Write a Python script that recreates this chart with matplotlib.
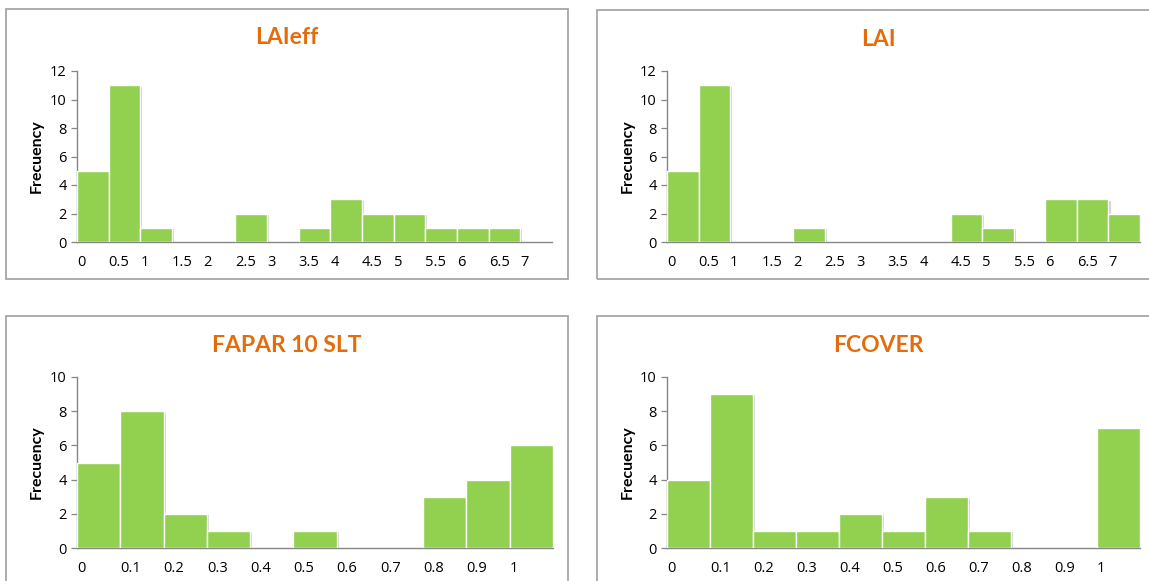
import matplotlib
matplotlib.use("Agg")
import matplotlib.pyplot as plt
import matplotlib.patheffects as pe
from matplotlib.patches import Rectangle
from matplotlib.transforms import ScaledTranslation

W, H = 1149, 581
GREEN, ORANGE, AXIS_GREY, BOX_GREY = "#92d050", "#e46c0a", "#868686", "#a6a6a6"

# histogram bins (left edges) and counts
LAI_EDGES = [0, 0.5, 1, 1.5, 2, 2.5, 3, 3.5, 4, 4.5, 5, 5.5, 6, 6.5, 7]
LAI_LABELS = ["0", "0.5", "1", "1.5", "2", "2.5", "3", "3.5", "4", "4.5", "5", "5.5", "6", "6.5", "7"]
LAIEFF_COUNTS = [5, 11, 1, 0, 0, 2, 0, 1, 3, 2, 2, 1, 1, 1, 0]
LAI_COUNTS = [5, 11, 0, 0, 1, 0, 0, 0, 0, 2, 1, 0, 3, 3, 2]

FRAC_EDGES = [0, 0.1, 0.2, 0.3, 0.4, 0.5, 0.6, 0.7, 0.8, 0.9, 1.0]
FRAC_LABELS = ["0", "0.1", "0.2", "0.3", "0.4", "0.5", "0.6", "0.7", "0.8", "0.9", "1"]
FAPAR_COUNTS = [5, 8, 2, 1, 0, 1, 0, 0, 3, 4, 6]
FCOVER_COUNTS = [4, 9, 1, 1, 2, 1, 3, 1, 0, 0, 7]

# (title, edges, labels, counts, step, ymax, box px, axes px)
PANELS = [
    ("LAIeff", LAI_EDGES, LAI_LABELS, LAIEFF_COUNTS, 0.5, 12, (6, 9, 568, 279), (77, 71, 552, 242)),
    ("LAI", LAI_EDGES, LAI_LABELS, LAI_COUNTS, 0.5, 12, (597, 10, 1170, 279), (667, 71, 1140, 242)),
    ("FAPAR 10 SLT", FRAC_EDGES, FRAC_LABELS, FAPAR_COUNTS, 0.1, 10, (6, 316, 568, 600), (77, 377, 553, 548)),
    ("FCOVER", FRAC_EDGES, FRAC_LABELS, FCOVER_COUNTS, 0.1, 10, (597, 316, 1170, 600), (667, 377, 1140, 548)),
]

fig = plt.figure(figsize=(W / 100, H / 100), dpi=100)
fig.patch.set_facecolor("white")

for title, edges, labels, counts, step, ymax, box, axp in PANELS:
    bx0, by0, bx1, by1 = box
    fig.add_artist(Rectangle((bx0 / W, 1 - by1 / H), (bx1 - bx0) / W, (by1 - by0) / H,
                             transform=fig.transFigure, fill=False, ec=BOX_GREY, lw=1.3))
    x0, y0, x1, y1 = axp
    ax = fig.add_axes([x0 / W, 1 - y1 / H, (x1 - x0) / W, (y1 - y0) / H])
    xs = [e for e, c in zip(edges, counts) if c > 0]
    hs = [c for c in counts if c > 0]
    bars = ax.bar(xs, hs, width=step, align="edge", color=GREEN, edgecolor="white", linewidth=1.0, zorder=3)
    for b in bars:
        b.set_path_effects([pe.SimplePatchShadow(offset=(1.5, -1.0), shadow_rgbFace="black", alpha=0.18),
                            pe.Normal()])
    ax.set_xlim(0, edges[-1] + step)
    ax.set_ylim(0, ymax)
    ax.set_yticks(range(0, ymax + 1, 2))
    ax.set_xticks(edges)
    ax.set_xticklabels(labels, ha="left", fontsize=10.5, family="Open Sans")
    shift = ScaledTranslation(2 / 100, 0, fig.dpi_scale_trans)
    for t in ax.get_xticklabels():
        t.set_transform(t.get_transform() + shift)
    for t in ax.get_yticklabels():
        t.set_fontsize(10.5)
        t.set_family("Open Sans")
    ax.tick_params(axis="x", length=0, pad=9)
    ax.tick_params(axis="y", length=4.5, width=0.9, color=AXIS_GREY, pad=3)
    for s in ("top", "right"):
        ax.spines[s].set_visible(False)
    for s in ("left", "bottom"):
        ax.spines[s].set_color(AXIS_GREY)
        ax.spines[s].set_linewidth(1.0)
    ax.set_ylabel("Frecuency", fontsize=11.5, fontweight="bold", family="Lato")
    ax.yaxis.set_label_coords(-(x0 - (bx0 + 38)) / (x1 - x0), 0.5)
    fig.text(((bx0 + min(bx1, bx0 + 562)) / 2) / W, 1 - (by0 + 29) / H, title,
             ha="center", va="center", fontsize=16.5, fontweight="bold", family="Lato", color=ORANGE)

fig.savefig("out.png", dpi=100, facecolor="white")
